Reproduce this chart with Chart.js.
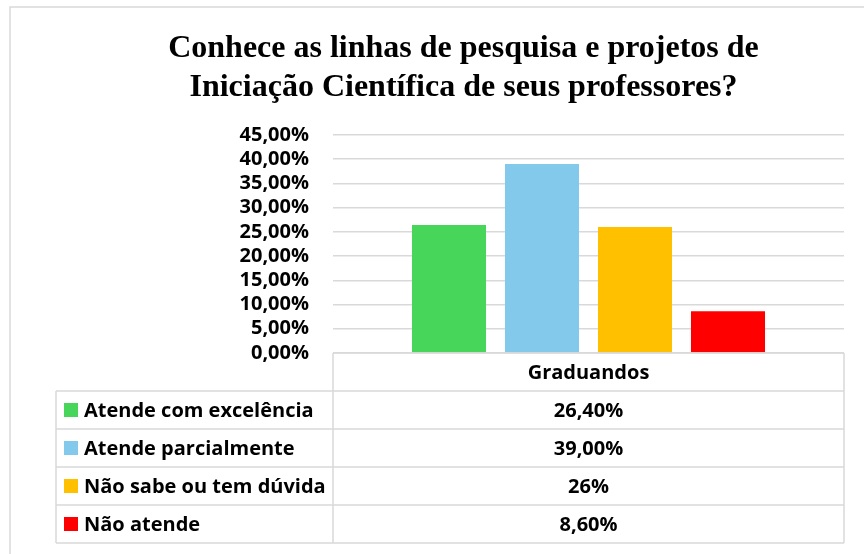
<!DOCTYPE html>
<html>
<head>
<meta charset="utf-8">
<script src="https://cdn.jsdelivr.net/npm/chart.js@4.4.1/dist/chart.umd.min.js"></script>
<style>
  html, body { margin: 0; padding: 0; background: #ffffff; }
  #wrap { width: 864px; height: 554px; position: relative; }
</style>
</head>
<body>
<div id="wrap"><canvas id="c" width="864" height="554"></canvas></div>
<script>
const titleLines = ['Conhece as linhas de pesquisa e projetos de', 'Iniciação Científica de seus professores?'];
const categories = ['Graduandos'];
const seriesLabels = ['Atende com excelência', 'Atende parcialmente', 'Não sabe ou tem dúvida', 'Não atende'];
const seriesValues = [26.4, 39.0, 26.0, 8.6];
const valueLabels = ['26,40%', '39,00%', '26%', '8,60%'];
const seriesColors = ['#47d55a', '#83c9eb', '#ffc000', '#ff0000'];
const tickLabels = ['0,00%', '5,00%', '10,00%', '15,00%', '20,00%', '25,00%', '30,00%', '35,00%', '40,00%', '45,00%'];

const BODY_FONT = '"Open Sans", Lato, sans-serif';
const LINE = '#d9d9d9';

const frame = {
  id: 'frame',
  beforeDraw(chart) {
    const ctx = chart.ctx;
    ctx.save();
    ctx.fillStyle = '#ffffff';
    ctx.fillRect(0, 0, chart.width, chart.height);
    ctx.strokeStyle = LINE;
    ctx.lineWidth = 1.5;
    ctx.beginPath();
    ctx.moveTo(10, chart.height);
    ctx.lineTo(10, 7);
    ctx.lineTo(chart.width, 7);
    ctx.stroke();
    ctx.restore();
  }
};

const dataTable = {
  id: 'dataTable',
  afterDraw(chart) {
    const ctx = chart.ctx;
    const area = chart.chartArea;
    const xs = chart.scales.x;
    const rowH = 38;
    const top = area.bottom;
    const legendLeft = 56;
    const nRows = seriesLabels.length;
    const bottom = top + rowH * (nRows + 1);
    ctx.save();
    ctx.strokeStyle = LINE;
    ctx.lineWidth = 1.5;
    ctx.beginPath();
    ctx.moveTo(area.left, top); ctx.lineTo(area.right, top);
    ctx.moveTo(area.left, top); ctx.lineTo(area.left, bottom);
    ctx.moveTo(area.right, top); ctx.lineTo(area.right, bottom);
    ctx.moveTo(legendLeft, top + rowH); ctx.lineTo(legendLeft, bottom);
    for (let i = 1; i <= nRows + 1; i++) {
      const y = top + rowH * i;
      ctx.moveTo(legendLeft, y); ctx.lineTo(area.right, y);
    }
    ctx.stroke();

    ctx.fillStyle = '#000000';
    ctx.font = 'bold 20px ' + BODY_FONT;
    ctx.textBaseline = 'alphabetic';
    ctx.textAlign = 'center';
    categories.forEach((cat, ci) => {
      const cx = xs.getPixelForValue(ci);
      ctx.fillText(cat, cx, top + 26);
      chart.data.datasets.forEach((ds, di) => {
        ctx.fillText(valueLabels[di], cx, top + rowH * (di + 1) + 26);
      });
    });
    ctx.textAlign = 'left';
    chart.data.datasets.forEach((ds, di) => {
      const rt = top + rowH * (di + 1);
      ctx.fillStyle = ds.backgroundColor;
      ctx.fillRect(64, rt + 12, 14, 14);
      ctx.fillStyle = '#000000';
      ctx.fillText(ds.label, 84, rt + 26);
    });
    ctx.restore();
  }
};

new Chart(document.getElementById('c'), {
  type: 'bar',
  data: {
    labels: categories,
    datasets: seriesLabels.map((lab, i) => ({
      label: lab,
      data: [seriesValues[i]],
      backgroundColor: seriesColors[i],
      borderWidth: 0,
      categoryPercentage: 0.728,
      barPercentage: 0.796
    }))
  },
  options: {
    responsive: false,
    animation: false,
    layout: { padding: { left: 83, right: 20, top: 0, bottom: 201 } },
    plugins: {
      legend: { display: false },
      tooltip: { enabled: false },
      title: {
        display: true,
        text: titleLines,
        color: '#000000',
        font: { family: '"Liberation Serif", "Times New Roman", serif', size: 32, weight: 'bold', lineHeight: 1.234 },
        padding: { top: 29, bottom: 27 }
      }
    },
    scales: {
      x: { display: false },
      y: {
        min: 0, max: 45,
        border: { display: false },
        grid: { color: LINE, lineWidth: 1.5, drawTicks: false },
        ticks: {
          stepSize: 5,
          autoSkip: false,
          padding: 24,
          color: '#000000',
          font: { family: BODY_FONT, size: 20, weight: 'bold' },
          callback: (v, i) => tickLabels[i]
        },
        afterFit: (s) => { s.width = 250; }
      }
    }
  },
  plugins: [frame, dataTable]
});
</script>
</body>
</html>
